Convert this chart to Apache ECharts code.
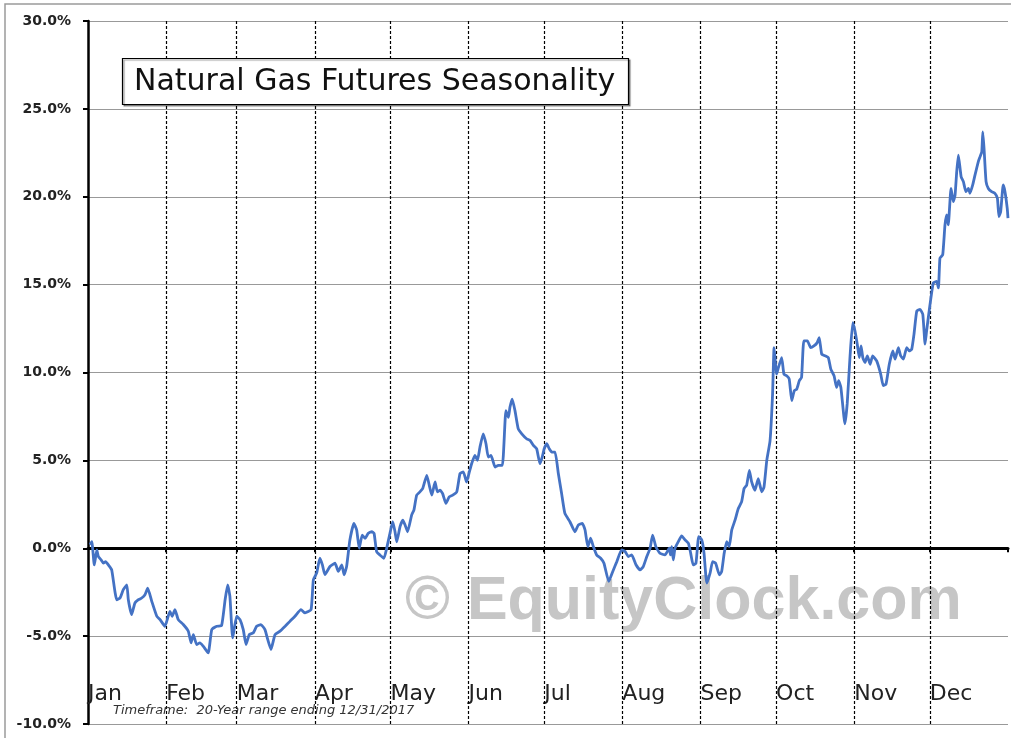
<!DOCTYPE html>
<html>
<head>
<meta charset="utf-8">
<script src="https://cdn.jsdelivr.net/npm/echarts@6/dist/echarts.min.js"></script>
<style>html,body{margin:0;padding:0;background:#fff}#c{width:1013px;height:738px}</style>
</head>
<body>
<div id="c"></div>
<script>
const titleText = 'Natural Gas Futures Seasonality';
const footerText = 'Timeframe:  20-Year range ending 12/31/2017';
const watermarkText = '\u00A9 EquityClock.com';
const months = ['Jan','Feb','Mar','Apr','May','Jun','Jul','Aug','Sep','Oct','Nov','Dec'];
const monthStarts = [0,31,59,90,120,151,181,212,243,273,304,334];
const yTicks = [-10,-5,0,5,10,15,20,25,30];

// day of year
const days = [
0.8,1.5,2.5,3.5,4.1,5.2,6.1,7.0,8.1,9.4,11.4,12.7,14.0,15.4,16.0,17.3,18.6,20.0,21.3,22.6,
23.7,25.3,27.3,28.6,30.5,32.5,33.4,34.5,35.8,37.8,39.8,40.9,41.8,43.1,44.4,45.7,47.7,49.1,51.1,53.0,
54.4,55.4,56.3,57.4,59.0,60.3,61.6,62.7,64.0,65.6,66.9,68.6,70.2,71.3,72.6,74.2,76.2,78.2,80.1,82.1,
84.5,86.1,88.5,89.4,90.7,92.0,93.0,94.0,96.0,98.0,99.3,100.7,101.6,102.6,103.9,105.5,106.6,107.6,108.8,109.9,
111.2,112.6,113.5,114.5,115.8,117.4,118.5,119.8,120.9,121.8,122.5,123.8,124.9,125.8,126.8,128.4,129.3,130.4,131.7,132.8,
134.4,135.4,136.4,137.7,138.6,139.7,140.7,142.0,143.3,144.7,146.3,147.6,148.9,150.2,151.3,152.2,153.5,154.5,155.5,156.8,
157.9,158.8,159.9,161.5,162.8,164.4,165.8,166.8,167.4,168.3,169.4,170.7,172.1,174.0,175.4,176.7,178.0,179.3,180.2,181.0,
182.0,183.0,184.0,185.3,186.6,187.9,189.2,191.2,193.2,194.5,196.1,197.2,198.3,199.4,200.5,201.8,203.4,204.7,206.6,208.2,
209.8,211.7,213.1,214.4,215.7,217.4,219.0,220.3,221.7,223.0,224.0,225.3,226.9,228.9,230.6,231.1,231.6,232.2,232.9,234.2,
235.5,236.9,238.2,239.1,240.1,241.2,242.3,243.5,244.4,245.5,246.8,247.8,249.0,250.5,251.4,252.4,253.4,254.4,255.4,256.7,
258.0,259.3,260.3,261.3,262.4,263.3,264.6,265.9,267.3,268.2,269.3,270.6,271.6,272.2,273.2,273.9,275.2,276.1,277.2,278.2,
279.2,280.2,281.2,282.2,283.1,284.0,285.4,286.7,288.0,289.3,290.1,291.1,292.4,293.7,294.7,296.0,297.0,297.8,298.7,300.3,
301.2,302.3,303.4,304.3,305.2,306.0,306.7,307.4,308.3,309.2,310.3,311.3,312.9,314.5,315.5,316.6,317.9,319.3,320.2,321.5,
322.4,323.5,324.8,325.8,326.8,327.7,328.8,330.1,331.2,332.1,332.7,333.8,334.7,335.4,336.7,337.4,338.0,339.1,340.0,340.7,
341.3,342.4,343.3,344.0,344.6,345.3,346.4,347.3,348.3,349.3,349.9,351.0,351.9,353.2,353.9,354.6,355.0,355.5,356.3,357.2,
358.5,359.8,360.8,361.4,362.1,363.1,363.8,364.7,365
];
// seasonal return, percent
const values = [
0.2,0.37,-0.95,-0.1,-0.47,-0.66,-0.85,-0.76,-0.95,-1.23,-2.93,-2.83,-2.36,-2.08,-2.93,-3.78,-3.12,-2.93,-2.83,-2.64,
-2.27,-3.02,-3.87,-4.06,-4.44,-3.59,-3.87,-3.49,-4.06,-4.34,-4.72,-5.38,-4.91,-5.48,-5.38,-5.57,-5.95,-4.63,-4.44,-4.40,
-2.93,-2.08,-2.74,-5.10,-3.87,-4.06,-4.63,-5.48,-4.91,-4.81,-4.44,-4.34,-4.63,-5.19,-5.76,-4.91,-4.72,-4.44,-4.16,-3.87,
-3.49,-3.68,-3.49,-1.80,-1.42,-0.57,-0.95,-1.5,-1.04,-0.85,-1.32,-0.95,-1.51,-1.04,0.47,1.42,1.04,0.0,0.75,0.57,
0.85,0.94,0.85,-0.19,-0.38,-0.57,0.0,0.85,1.51,0.94,0.37,1.23,1.6,1.32,0.94,1.89,2.17,3.02,3.21,3.4,
4.15,3.58,3.02,3.77,3.21,3.30,3.11,2.55,2.92,3.02,3.21,4.25,4.34,3.77,4.34,4.81,5.28,5.0,5.75,6.51,
5.95,5.19,5.28,4.62,4.72,4.72,7.83,7.45,8.02,8.49,7.83,6.79,6.51,6.23,6.13,5.85,5.66,4.81,5.19,5.66,
5.95,5.66,5.47,5.47,4.25,3.11,1.98,1.51,0.94,1.32,1.42,1.04,0.09,0.57,0.09,-0.38,-0.57,-0.85,-1.89,-1.32,
-0.76,-0.09,-0.19,-0.47,-0.38,-0.94,-1.23,-1.04,-0.47,0.0,0.75,0.09,-0.28,-0.38,0.0,-0.38,0.09,-0.66,0.0,0.38,
0.70,0.47,0.28,-0.28,-0.95,-0.85,0.66,0.47,-0.28,-1.98,-1.42,-0.76,-0.85,-1.51,-1.32,-0.28,0.38,0.09,1.04,1.6,
2.26,2.64,3.40,3.58,4.43,3.77,3.30,3.96,3.21,3.49,5.0,6.13,8.78,11.42,9.91,10.28,10.85,9.91,9.81,9.63,
8.40,8.96,9.06,9.53,9.72,11.80,11.80,11.42,11.51,11.70,11.98,11.04,10.95,10.85,10.19,9.81,9.15,9.53,9.15,7.08,
8.21,10.85,12.83,12.36,11.61,10.85,11.51,10.85,10.57,10.95,10.47,10.95,10.66,9.91,9.25,9.34,10.47,11.23,10.76,11.42,
10.95,10.76,11.42,11.23,11.32,12.17,13.49,13.59,13.31,11.61,12.36,13.59,14.53,15.10,15.19,14.81,16.51,16.70,18.40,18.97,
18.40,20.47,19.72,20.10,21.32,22.37,21.14,20.86,20.29,20.47,20.19,20.67,21.23,21.99,22.27,22.55,23.69,22.74,20.86,20.47,
20.29,20.19,19.91,18.87,19.16,20.67,20.29,19.34,18.78
];

const seriesData = days.map((d, i) => [d, values[i]]);
const chart = echarts.init(document.getElementById('c'), null, {renderer: 'canvas'});
const font = '"DejaVu Sans", Verdana, sans-serif';

chart.setOption({
  animation: false,
  backgroundColor: '#ffffff',
  title: [{
    text: titleText,
    left: 122, top: 58,
    padding: [9, 14, 8, 12],
    borderColor: '#000', borderWidth: 1.2,
    backgroundColor: '#fff',
    shadowColor: 'rgba(0,0,0,0.4)', shadowOffsetX: 1.5, shadowOffsetY: 1.5, shadowBlur: 1,
    textStyle: {fontFamily: font, fontSize: 30, fontWeight: 'normal', color: '#111'}
  }, {
    text: footerText,
    left: 113, top: 704, padding: 0,
    textStyle: {fontFamily: font, fontSize: 13, fontStyle: 'italic', fontWeight: 'normal', color: '#333'}
  }],
  graphic: [{
    type: 'text', z: -1, silent: true,
    left: 405, top: 572,
    style: {text: watermarkText, font: 'bold 61px "Liberation Sans", Arial, sans-serif', fill: '#c6c6c6'}
  }, {
    type: 'polyline', silent: true, z: -1,
    shape: {points: [[5, 738], [5, 4], [1011, 4]]},
    style: {stroke: '#9a9a9a', lineWidth: 1.5, fill: null}
  }],
  grid: {left: 88, right: 5, top: 21, bottom: 14, containLabel: false},
  xAxis: [{
    type: 'value', min: 0, max: 365,
    axisLine: {show: true, onZero: true, lineStyle: {color: '#000', width: 3}},
    axisTick: {show: true, customValues: monthStarts.slice(1).concat([365]), length: 4, lineStyle: {color: '#000', width: 2}},
    axisLabel: {show: false},
    splitLine: {show: false}
  }, {
    type: 'value', min: 0, max: 365, position: 'bottom',
    axisLine: {show: false, onZero: false},
    axisTick: {show: false},
    splitLine: {show: false},
    axisLabel: {
      show: true, inside: true, margin: 30,
      customValues: monthStarts,
      formatter: v => months[monthStarts.indexOf(v)] || '',
      align: 'left', verticalAlign: 'middle',
      fontFamily: font, fontSize: 22, color: '#222'
    }
  }],
  yAxis: {
    type: 'value', min: -10, max: 30, interval: 5,
    axisLine: {show: true, onZero: false, lineStyle: {color: '#000', width: 2.5}},
    axisTick: {show: true, length: 5, lineStyle: {color: '#000', width: 2}},
    axisLabel: {
      margin: 17, fontFamily: font, fontSize: 14, fontWeight: 'bold', color: '#222',
      formatter: v => v.toFixed(1) + '%'
    },
    splitLine: {show: true, lineStyle: {color: '#999', width: 1}}
  },
  series: [{
    type: 'line', xAxisIndex: 0, data: seriesData,
    showSymbol: false, smooth: 0.15, z: 5,
    lineStyle: {color: '#4472C4', width: 2.8},
    markLine: {
      silent: true, symbol: 'none', animation: false,
      label: {show: false},
      lineStyle: {color: '#000', type: [3, 2], width: 1.2},
      data: monthStarts.slice(1).map(v => ({xAxis: v}))
    }
  }]
});
</script>
</body>
</html>
